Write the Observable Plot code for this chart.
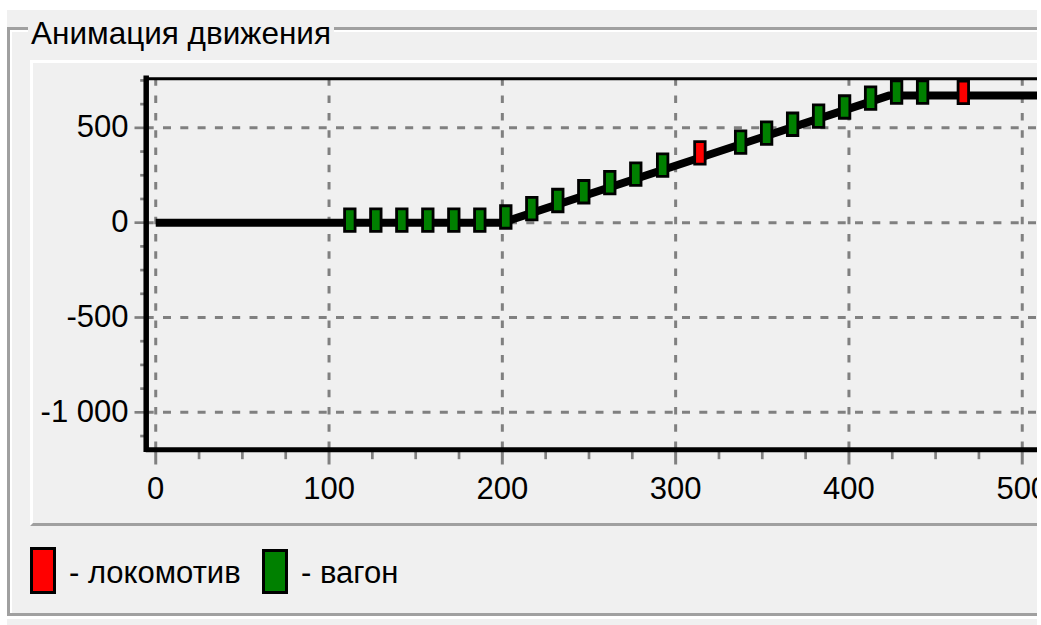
<!DOCTYPE html>
<html><head><meta charset="utf-8">
<script src="https://cdn.jsdelivr.net/npm/d3@7"></script>
<script src="https://cdn.jsdelivr.net/npm/@observablehq/plot@0.6"></script>
<style>
html,body{margin:0;padding:0;background:#fff;overflow:hidden;width:1041px;height:625px;}
#wrap{position:absolute;left:0;top:0;width:1037px;height:625px;overflow:hidden;background:#fff;font-family:"Liberation Sans",Arial,sans-serif;}
.abs{position:absolute;box-sizing:content-box;}
#bg{left:7px;top:10px;right:0;bottom:0;background:#f0f0f0;}
#gb{left:7px;top:27px;width:1200px;height:583px;border:3px solid #a0a0a0;border-right:none;box-shadow:inset 2px 2px 0 #fff;}
#gbw{left:7px;top:616px;width:1200px;height:3px;background:#fff;}
#title{left:28px;top:17px;padding:0 3px;background:#f0f0f0;font-size:31.5px;line-height:32px;color:#000;white-space:nowrap;}
#panel{left:30px;top:60px;width:1200px;height:460px;border-top:3px solid #fff;border-left:3px solid #fff;border-bottom:3px solid #a0a0a0;}
.sw{border:3px solid #000;box-sizing:border-box;}
.lt{font-size:31px;line-height:31px;color:#000;white-space:nowrap;}
</style></head>
<body>
<div id="wrap">
  <div id="bg" class="abs"></div>
  <div id="gb" class="abs"></div>
  <div id="gbw" class="abs"></div>
  <div id="title" class="abs">Анимация движения</div>
  <div id="panel" class="abs"></div>
  <div id="chart" class="abs" style="left:0;top:0;"></div>
  <div id="legend"></div>
</div>
<script>
// ---- data ----
const xMajorTicks = [0, 100, 200, 300, 400, 500];
const xTickLabels = ["0", "100", "200", "300", "400", "500"];
const xMinorTicks = [25, 50, 75, 125, 150, 175, 225, 250, 275, 325, 350, 375, 425, 450, 475];
const yMajorTicks = [-1000, -500, 0, 500];
const yTickLabels = ["-1 000", "-500", "0", "500"];
const yMinorTicks = [-1125, -875, -750, -625, -375, -250, -125, 125, 250, 375, 625, 750];

const trackX = [0, 200, 423, 520];
const trackY = [0, 0, 670, 670];

const wagonX = [112, 127, 142, 157, 172, 187, 202, 217, 232, 247, 262, 277, 292.5, 337.5, 352.5, 367.5, 382.5, 397.5, 412.5, 427.5, 442.5];
const wagonY = [13, 13, 13, 13, 13, 13, 30, 74, 117, 163, 211, 256, 303, 425, 472, 519, 562, 610, 657, 688, 688];
const locoX = [314, 466];
const locoY = [368, 687];

const legendLabels = ["- локомотив", "- вагон"];
const legendColors = ["#ff0000", "#008000"];

const xDomain = [-5.5, 508.8];
const yDomain = [-1197, 758.6];

// ---- symbols ----
const carSymbol = {draw(ctx) { ctx.rect(-5.25, -11.25, 10.5, 22.5); }};
const tickDown = len => ({draw(ctx) { ctx.moveTo(0, 0); ctx.lineTo(0, len); }});
const tickLeft = len => ({draw(ctx) { ctx.moveTo(0, 0); ctx.lineTo(-len, 0); }});

const track = trackX.map((x, i) => ({x, y: trackY[i]}));
const wagons = wagonX.map((x, i) => ({x, y: wagonY[i]}));
const locos = locoX.map((x, i) => ({x, y: locoY[i]}));

const GRID = "#808080";
const FONT = "Liberation Sans, Arial, sans-serif";

const plot = Plot.plot({
  width: 1037,
  height: 625,
  marginLeft: 145.7,
  marginTop: 78.3,
  marginBottom: 625 - 449.2,
  marginRight: 0,
  style: {background: "transparent", fontFamily: FONT, overflow: "hidden"},
  x: {domain: xDomain, axis: null},
  y: {domain: yDomain, axis: null},
  marks: [
    Plot.ruleX(xMajorTicks, {x: d => d, stroke: GRID, strokeWidth: 3, strokeDasharray: "7.5,9.8"}),
    Plot.ruleY(yMajorTicks, {y: d => d, stroke: GRID, strokeWidth: 3, strokeDasharray: "8,9.3"}),
    Plot.dot(xMinorTicks, {x: d => d, y: yDomain[0], symbol: tickDown(9.5), stroke: GRID, fill: "none", strokeWidth: 2.7}),
    Plot.dot(xMajorTicks, {x: d => d, y: yDomain[0], symbol: tickDown(14.8), stroke: GRID, fill: "none", strokeWidth: 3}),
    Plot.dot(yMinorTicks, {x: xDomain[0], y: d => d, symbol: tickLeft(6), stroke: GRID, fill: "none", strokeWidth: 2.7}),
    Plot.dot(yMajorTicks, {x: xDomain[0], y: d => d, symbol: tickLeft(11.7), stroke: GRID, fill: "none", strokeWidth: 2.7}),
    Plot.line(track, {x: "x", y: "y", stroke: "#000", strokeWidth: 8, strokeLinecap: "butt", strokeLinejoin: "miter"}),
    Plot.dot(wagons, {x: "x", y: "y", symbol: carSymbol, fill: "#008000", stroke: "#000", strokeWidth: 2.8}),
    Plot.dot(locos, {x: "x", y: "y", symbol: carSymbol, fill: "#ff0000", stroke: "#000", strokeWidth: 2.8}),
    Plot.ruleY([yDomain[1]], {stroke: "#000", strokeWidth: 3}),
    Plot.ruleY([yDomain[0]], {stroke: "#000", strokeWidth: 5}),
    Plot.ruleX([xDomain[0]], {stroke: "#000", strokeWidth: 5.5, strokeLinecap: "square"}),
    Plot.text(yMajorTicks, {x: xDomain[0], y: d => d, text: (d, i) => yTickLabels[i], textAnchor: "end", dx: -17.7, dy: -0.5, fontSize: 31, fill: "#000", fontFamily: FONT}),
    Plot.text(xMajorTicks, {x: d => d, y: yDomain[0], text: (d, i) => xTickLabels[i], dy: 39.5, fontSize: 31, fill: "#000", fontFamily: FONT})
  ]
});
plot.style.position = "absolute";
plot.style.left = "0px";
plot.style.top = "0px";
plot.style.maxWidth = "none";
document.getElementById("chart").appendChild(plot);

// legend
const legend = document.getElementById("legend");
const swPos = [{l: 30, t: 546.7, w: 26, h: 47.6}, {l: 262.3, t: 549.3, w: 25.4, h: 45}];
const txPos = [{l: 69, t: 557}, {l: 301, t: 557}];
legendLabels.forEach((lab, i) => {
  const s = document.createElement("div");
  s.className = "abs sw";
  Object.assign(s.style, {left: swPos[i].l + "px", top: swPos[i].t + "px", width: swPos[i].w + "px", height: swPos[i].h + "px", background: legendColors[i]});
  legend.appendChild(s);
  const t = document.createElement("div");
  t.className = "abs lt";
  Object.assign(t.style, {left: txPos[i].l + "px", top: txPos[i].t + "px"});
  t.textContent = lab;
  legend.appendChild(t);
});
</script>
</body></html>
